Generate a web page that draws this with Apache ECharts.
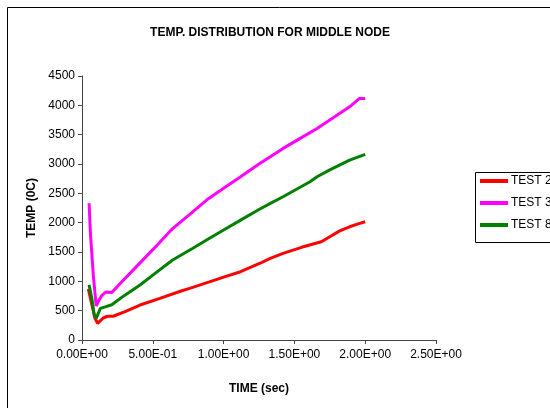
<!DOCTYPE html>
<html>
<head>
<meta charset="utf-8">
<script src="https://cdn.jsdelivr.net/npm/echarts@6/dist/echarts.min.js"></script>
<style>html,body{margin:0;padding:0;background:#fff}#c{width:550px;height:408px}</style>
</head>
<body>
<div id="c"></div>
<script>
var seriesNames = ['TEST 2', 'TEST 3', 'TEST 8'];

var test2Time = [0.045, 0.07, 0.09, 0.11, 0.13, 0.15, 0.18, 0.22, 0.30, 0.41, 0.55, 0.70, 0.76, 0.90, 1.00, 1.12, 1.25, 1.33, 1.42, 1.55, 1.69, 1.75, 1.82, 1.89, 1.95, 2.00];
var test2Temp = [870, 600, 380, 285, 330, 375, 405, 405, 480, 596, 710, 835, 880, 991, 1071, 1164, 1300, 1392, 1477, 1580, 1675, 1760, 1860, 1930, 1980, 2015];

var test3Time = [0.05, 0.06, 0.08, 0.10, 0.12, 0.14, 0.17, 0.21, 0.30, 0.41, 0.50, 0.64, 0.78, 0.88, 1.00, 1.12, 1.25, 1.33, 1.42, 1.55, 1.66, 1.75, 1.89, 1.96, 2.00];
var test3Temp = [2330, 1800, 1100, 580, 680, 760, 820, 810, 1040, 1315, 1540, 1900, 2181, 2385, 2588, 2782, 3000, 3123, 3266, 3450, 3606, 3748, 3975, 4117, 4117];

var test8Time = [0.05, 0.07, 0.085, 0.10, 0.13, 0.17, 0.21, 0.30, 0.41, 0.50, 0.64, 0.78, 0.88, 1.00, 1.12, 1.25, 1.33, 1.42, 1.61, 1.66, 1.75, 1.89, 2.00];
var test8Temp = [940, 700, 450, 370, 540, 570, 600, 760, 937, 1105, 1363, 1560, 1704, 1875, 2044, 2225, 2329, 2442, 2697, 2783, 2900, 3066, 3164];

var xTicks = [0, 0.5, 1.0, 1.5, 2.0, 2.5];
var yTicks = [0, 500, 1000, 1500, 2000, 2500, 3000, 3500, 4000, 4500];

function pairs(t, v) { return t.map(function (x, i) { return [x, v[i]]; }); }
function sci(v) {
  if (v === 0) return '0.00E+00';
  var e = Math.floor(Math.log10(Math.abs(v)) + 1e-9);
  var m = v / Math.pow(10, e);
  var s = e < 0 ? '-' : '+';
  var a = Math.abs(e);
  return m.toFixed(2) + 'E' + s + (a < 10 ? '0' : '') + a;
}

var FONT = 'Liberation Sans, Arial, sans-serif';
var chart = echarts.init(document.getElementById('c'), null, { renderer: 'canvas' });
chart.setOption({
  animation: false,
  backgroundColor: '#ffffff',
  title: {
    text: 'TEMP. DISTRIBUTION FOR MIDDLE NODE',
    left: 265, top: 22, textAlign: 'center',
    textStyle: { fontFamily: FONT, fontSize: 12, fontWeight: 'bold', color: '#000' }
  },
  graphic: [
    { type: 'rect', shape: { x: 7.5, y: 7.5, width: 600, height: 500 }, style: { fill: 'none', stroke: '#000', lineWidth: 1 }, z: -1 },
    { type: 'rect', shape: { x: 475.5, y: 172.5, width: 100, height: 70 }, style: { fill: '#fff', stroke: '#000', lineWidth: 1 }, z: 0 }
  ],
  legend: {
    orient: 'vertical', left: 480, top: 175, padding: 0,
    itemWidth: 28, itemHeight: 4, itemGap: 10, icon: 'rect',
    textStyle: { fontFamily: FONT, fontSize: 12, color: '#000', padding: [0, 0, 0, -2], width: 60, overflow: 'none' },
    data: seriesNames, z: 5
  },
  grid: { left: 82, right: 114, top: 76, bottom: 68, containLabel: false },
  xAxis: {
    type: 'value', min: xTicks[0], max: xTicks[xTicks.length - 1], interval: 0.5,
    name: 'TIME (sec)', nameLocation: 'middle', nameGap: 43,
    nameTextStyle: { fontFamily: FONT, fontSize: 12, fontWeight: 'bold', color: '#000' },
    axisLine: { lineStyle: { color: '#444', width: 1 } },
    axisTick: { show: true, inside: false, length: 4, lineStyle: { color: '#444' } },
    axisLabel: { fontFamily: FONT, fontSize: 12, color: '#000', margin: 9, formatter: sci },
    splitLine: { show: false }
  },
  yAxis: {
    type: 'value', min: yTicks[0], max: yTicks[yTicks.length - 1], interval: 500,
    name: 'TEMP (0C)', nameLocation: 'middle', nameGap: 40, nameRotate: 90,
    nameTextStyle: { fontFamily: FONT, fontSize: 12, fontWeight: 'bold', color: '#000' },
    axisLine: { show: true, lineStyle: { color: '#444', width: 1 } },
    axisTick: { show: true, inside: false, length: 4, lineStyle: { color: '#444' } },
    axisLabel: { fontFamily: FONT, fontSize: 12, color: '#000', margin: 7, formatter: function (v) { return String(v); } },
    splitLine: { show: false }
  },
  series: [
    { name: seriesNames[0], type: 'line', data: pairs(test2Time, test2Temp), showSymbol: false, color: '#ff0000', lineStyle: { width: 3, color: '#ff0000' } },
    { name: seriesNames[1], type: 'line', data: pairs(test3Time, test3Temp), showSymbol: false, color: '#ff00ff', lineStyle: { width: 3, color: '#ff00ff' } },
    { name: seriesNames[2], type: 'line', data: pairs(test8Time, test8Temp), showSymbol: false, color: '#008000', lineStyle: { width: 3, color: '#008000' } }
  ]
});
</script>
</body>
</html>
